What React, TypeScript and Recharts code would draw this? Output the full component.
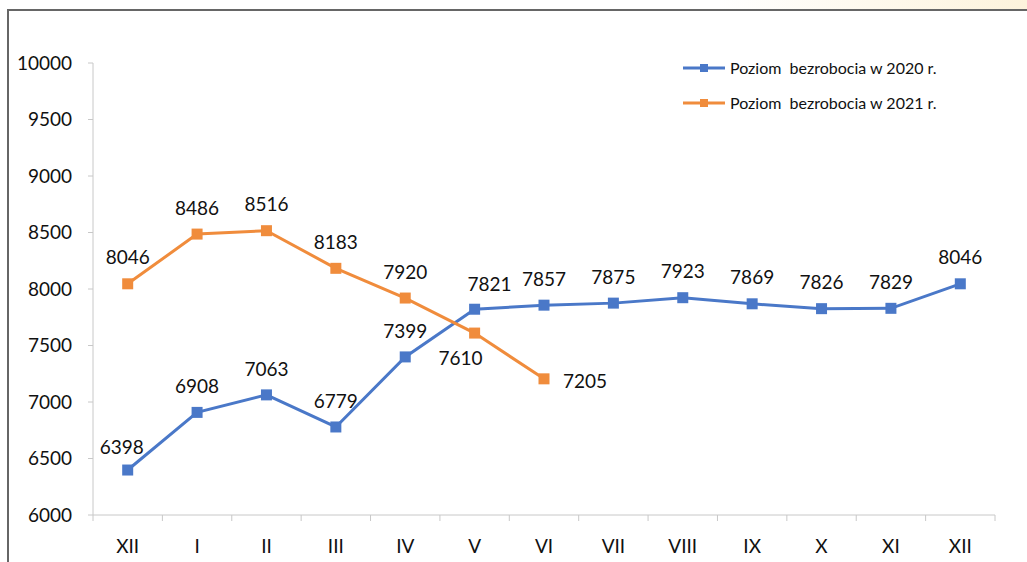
import { LineChart, Line, XAxis, YAxis, LabelList } from 'recharts';

const months = ['XII', 'I', 'II', 'III', 'IV', 'V', 'VI', 'VII', 'VIII', 'IX', 'X', 'XI', 'XII'];
const level2020 = [6398, 6908, 7063, 6779, 7399, 7821, 7857, 7875, 7923, 7869, 7826, 7829, 8046];
const level2021 = [8046, 8486, 8516, 8183, 7920, 7610, 7205];
const yTicks = [6000, 6500, 7000, 7500, 8000, 8500, 9000, 9500, 10000];

const series = [
  { key: 'y2020', name: 'Poziom  bezrobocia w 2020 r.', color: '#4a78c8' },
  { key: 'y2021', name: 'Poziom  bezrobocia w 2021 r.', color: '#f08c3c' },
];

const data = months.map((m, i) => ({
  idx: i,
  month: m,
  y2020: level2020[i] ?? null,
  y2021: level2021[i] ?? null,
}));

const W = 1027;
const H = 562;
const margin = { top: 63, right: 32, bottom: 0, left: 0 };
const yAxisW = 93;
const half = (W - yAxisW - margin.right) / months.length / 2;
const font = 'Lato, "Open Sans", sans-serif';
const axisColor = '#c8c8c8';

// label offsets (text centre relative to point), per series/index
const labelShift: Record<string, Record<number, [number, number]>> = {
  y2020: { 0: [-6, -23], 5: [15, -25] },
  y2021: { 5: [-14, 25], 6: [41, 3] },
};

const makeLabel = (key: string) => (props: any) => {
  const { x, y, value, index } = props;
  if (value == null || x == null || y == null) return null;
  const [dx, dy] = labelShift[key][index] ?? [0, -26];
  return (
    <text
      x={x + dx}
      y={y + dy}
      dy="0.35em"
      textAnchor="middle"
      fontSize={19}
      fontFamily={font}
      fill="#111"
    >
      {value}
    </text>
  );
};

const squareDot = (color: string) => (props: any) => {
  const { cx, cy, index } = props;
  if (cx == null || cy == null) return <g key={index} />;
  return <rect key={index} x={cx - 5.5} y={cy - 5.5} width={11} height={11} fill={color} />;
};

const XTick = (props: any) => {
  const { x, y, payload, index } = props;
  return (
    <g>
      <line x1={x - half} x2={x - half} y1={y} y2={y + 6} stroke={axisColor} />
      {index === months.length - 1 && (
        <line x1={x + half} x2={x + half} y1={y} y2={y + 6} stroke={axisColor} />
      )}
      <text x={x} y={y + 31} dy="0.35em" textAnchor="middle" fontSize={19} fontFamily={font} fill="#111">
        {months[payload.value]}
      </text>
    </g>
  );
};

const LegendBox = () => (
  <div style={{ fontFamily: font, fontSize: 16, color: '#111', whiteSpace: 'pre' }}>
    {series.map((s) => (
      <div key={s.key} style={{ display: 'flex', alignItems: 'center', height: 35 }}>
        <svg width={47} height={12}>
          <line x1={0} x2={42} y1={6} y2={6} stroke={s.color} strokeWidth={3} />
          <rect x={17} y={2} width={8} height={8} fill={s.color} />
        </svg>
        <span>{s.name}</span>
      </div>
    ))}
  </div>
);

export default function App() {
  return (
    <div
      style={{
        position: 'absolute',
        left: 0,
        top: 0,
        width: W,
        height: H,
        overflow: 'hidden',
        background: 'linear-gradient(90deg, #ffffff 0%, #ffffff 70%, #fdf3dc 100%)',
      }}
    >
      <div
        style={{
          position: 'absolute',
          left: 7,
          top: 9,
          right: 0,
          bottom: 0,
          background: '#fff',
          borderTop: '2px solid #666',
          borderLeft: '2px solid #666',
        }}
      />
      <div style={{ position: 'absolute', left: 0, top: 0 }}>
        <LineChart width={W} height={H} data={data} margin={margin}>
          <XAxis
            dataKey="idx"
            type="category"
            height={47}
            tick={<XTick />}
            tickLine={false}
            tickSize={0}
            tickMargin={0}
            axisLine={{ stroke: axisColor }}
            interval={0}
            padding={{ left: half, right: half }}
          />
          <YAxis
            width={yAxisW}
            domain={[6000, 10000]}
            ticks={yTicks}
            tickSize={5}
            tickMargin={16}
            tickLine={{ stroke: axisColor }}
            axisLine={{ stroke: axisColor }}
            tick={{ fontSize: 19, fontFamily: font, fill: '#111' }}
            allowDataOverflow
          />
          {series.map((s) => (
            <Line
              key={s.key}
              dataKey={s.key}
              name={s.name}
              stroke={s.color}
              strokeWidth={3}
              dot={squareDot(s.color)}
              activeDot={false}
              isAnimationActive={false}
              connectNulls={false}
            >
              <LabelList dataKey={s.key} content={makeLabel(s.key)} />
            </Line>
          ))}
        </LineChart>
      </div>
      <div style={{ position: 'absolute', left: 683, top: 50 }}>
        <LegendBox />
      </div>
    </div>
  );
}
